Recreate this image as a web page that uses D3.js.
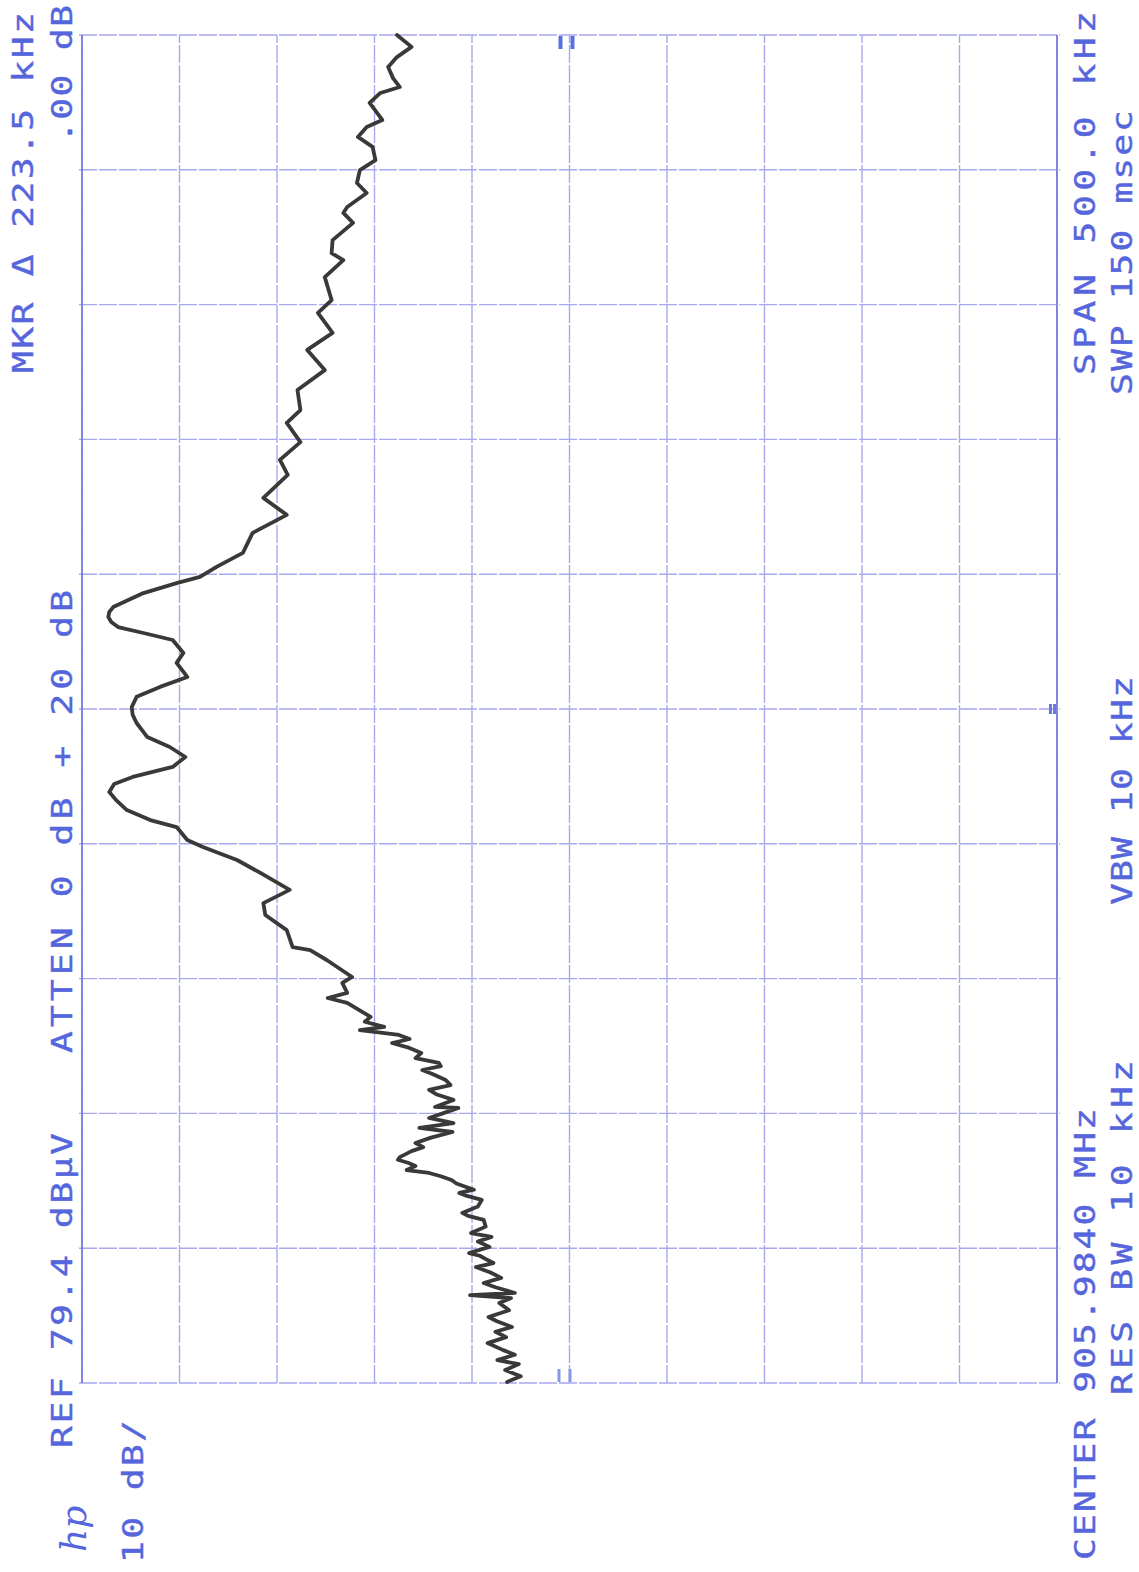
<!DOCTYPE html>
<html>
<head>
<meta charset="utf-8">
<script src="https://cdn.jsdelivr.net/npm/d3@7"></script>
<style>
  body { margin: 0; background: #fff; }
  svg { display: block; }
  .lbl { font-family: "DejaVu Sans Mono", monospace; font-size: 28px; fill: #5566dd; stroke: #5566dd; stroke-width: 0.4px; }
</style>
</head>
<body>
<svg id="area" width="1139" height="1572"></svg>
<script>

// trace: offset from center (kHz) and level (dBuV)
let freqKHz = [-249.6,-247.5,-245.2,-243.0,-241.5,-239.5,-237.8,-235.2,-233.0,-231.0,-229.2,-227.0,-225.5,-223.0,-220.3,-218.5,-217.4,-216.6,-214.5,-212.9,
  -211.0,-209.0,-207.0,-205.5,-204.4,-202.8,-201.8,-199.5,-197.5,-195.8,-194.4,-192.0,-189.5,-188.0,-186.9,-184.5,-182.1,-180.5,-179.5,-178.3,
  -177.3,-176.0,-174.7,-173.3,-172.1,-171.0,-169.5,-168.4,-167.2,-166.2,-164.0,-162.5,-161.0,-159.0,-156.9,-155.4,-153.6,-151.7,-150.0,-148.0,
  -147.6,-145.0,-143.0,-141.3,-139.5,-137.6,-135.5,-133.9,-132.5,-131.3,-129.5,-127.6,-125.5,-123.9,-122.4,-120.9,-119.1,-117.9,-116.0,-114.2,
  -109.0,-107.2,-105.3,-101.6,-99.4,-93.1,-89.4,-88.3,-82.0,-76.4,-72.0,-67.1,-60.8,-56.0,-51.2,
  -48.6,-43.8,-41.2,-37.5,-33.8,-30.8,-27.8,-25.2,-21.5,-17.8,-14.1,-10.4,-5.2,-2.2,0.7,4.5,8.2,11.9,17.1,20.8,25.6,28.2,
  30.4,32.3,34.1,36.0,37.8,43.0,46.7,49.0,52.7,57.9,65.3,72.0,78.3,86.8,92.4,99.0,106.1,110.9,118.3,125.7,133.2,139.5,
  146.9,151.7,160.2,166.5,169.1,173.9,180.3,184.0,186.2,191.4,195.1,199.9,203.6,208.5,212.2,215.9,218.5,224.8,228.5,230.7,
  234.0,238.1,241.8,245.6,250.0];
let levelDb = [35.8,34.4,36.0,34.6,36.8,35.0,36.2,37.8,35.9,37.0,35.3,36.9,37.7,35.6,36.6,35.4,39.6,35.0,37.0,38.2,
  36.4,37.5,39.0,37.2,37.8,38.6,39.7,37.6,38.8,37.4,39.5,38.0,38.2,39.8,40.4,38.8,38.4,40.0,40.7,39.2,
  40.0,41.0,41.5,42.6,43.8,46.1,45.2,45.9,47.0,46.8,45.6,44.4,45.2,43.6,41.4,44.8,41.3,43.8,42.4,40.8,
  43.2,41.3,43.0,43.8,41.6,42.1,43.4,44.5,42.6,42.8,45.2,44.6,46.0,47.6,45.8,46.9,50.9,48.4,50.4,49.8,
  52.2,54.2,52.2,52.7,51.7,54.3,56.0,57.8,58.4,60.6,60.8,58.1,61.1,63.5,67.0,
  68.6,69.7,72.4,74.8,75.9,76.6,76.1,74.2,70.1,68.8,70.4,72.7,73.8,74.2,74.3,73.8,71.4,68.6,69.7,69.0,70.1,73.1,
  75.7,76.4,76.7,76.6,76.2,73.1,69.7,67.3,65.6,62.9,61.9,58.4,60.8,58.3,59.1,57.0,58.4,57.0,57.3,54.5,56.3,53.7,
  55.2,53.8,54.5,52.6,53.8,53.7,51.6,52.6,52.2,50.2,51.2,50.9,49.3,49.6,51.1,50.2,48.6,49.9,48.8,46.8,
  47.5,48.0,47.1,45.6,47.1];

// graticule: 10 dB/div from REF 79.4, 50 kHz/div over a 500 kHz span
let levelTicks = [79.4, 69.4, 59.4, 49.4, 39.4, 29.4, 19.4, 9.4, -0.6, -10.6, -20.6];
let freqTicks = [-250, -200, -150, -100, -50, 0, 50, 100, 150, 200, 250];

let leftLabels = ["MKR \u0394 223.5 kHz", ".00 dB", "ATTEN 0 dB + 20 dB", "REF 79.4 dB\u00b5V", "10 dB/"];
let rightLabels = ["SPAN 500.0 kHz", "SWP 150 msec", "VBW 10 kHz", "CENTER 905.9840 MHz", "RES BW 10 kHz"];

let svg = d3.select("#area");

// the plot is printed turned a quarter: level runs left->right, frequency bottom->top
let xScale = d3.scaleLinear().domain([79.4, -20.6]).range([82, 1057]);
let yScale = d3.scaleLinear().domain([-250, 250]).range([1383, 35]);

let grid = svg.append("g").attr("class", "grid");

grid.selectAll("line.v")
  .data(levelTicks)
  .enter().append("line")
  .attr("class", "v")
  .attr("x1", d => xScale(d)).attr("x2", d => xScale(d))
  .attr("y1", yScale(-250)).attr("y2", yScale(250))
  .style("stroke", "#a8a8ef")
  .style("stroke-width", 1.4)
  .style("stroke-dasharray", "18,2");

grid.selectAll("line.h")
  .data(freqTicks)
  .enter().append("line")
  .attr("class", "h")
  .attr("x1", xScale(79.4) - 3).attr("x2", xScale(-20.6) + 3)
  .attr("y1", d => yScale(d)).attr("y2", d => yScale(d))
  .style("stroke", "#a8a8ef")
  .style("stroke-width", 1.4)
  .style("stroke-dasharray", "18,2");

// outer frame
[levelTicks[0], levelTicks[levelTicks.length - 1]].forEach(v => {
  grid.append("line")
    .attr("x1", xScale(v)).attr("x2", xScale(v))
    .attr("y1", yScale(-250)).attr("y2", yScale(250))
    .style("stroke", "#7b7be6").style("stroke-width", 1.8);
});

// center markers
let midX = xScale(levelTicks[5]);
[[midX - 11, yScale(250) + 1], [midX + 1, yScale(250) + 1]].forEach(p => {
  grid.append("rect").attr("x", p[0]).attr("y", p[1]).attr("width", 4).attr("height", 13).style("fill", "#5a6ee0");
});
[[midX - 12, yScale(-250) - 14], [midX - 1, yScale(-250) - 14]].forEach(p => {
  grid.append("rect").attr("x", p[0]).attr("y", p[1]).attr("width", 3).attr("height", 13).style("fill", "#8a96e8");
});
grid.append("rect").attr("x", xScale(-20.6) - 8).attr("y", yScale(0) - 5).attr("width", 3).attr("height", 10).style("fill", "#6a78e0");
grid.append("rect").attr("x", xScale(-20.6) - 4).attr("y", yScale(0) - 5).attr("width", 3).attr("height", 10).style("fill", "#6a78e0");

let trace = freqKHz.map((f, i) => ({ f: f, l: levelDb[i] }));

let line = d3.line()
  .x(d => xScale(d.l))
  .y(d => yScale(d.f));

svg.append("path")
  .datum(trace)
  .attr("d", line)
  .style("fill", "none")
  .style("stroke", "#3b3838")
  .style("stroke-width", 3.8)
  .style("stroke-linejoin", "round")
  .style("stroke-linecap", "round");

// annotations, rotated with the plot and stretched like the plotter font
function label(txt, x, y0, y1) {
  let sx = 1.3;
  svg.append("text")
    .attr("class", "lbl")
    .attr("transform", "translate(" + x + "," + y0 + ") rotate(-90) scale(" + sx + ",1)")
    .attr("textLength", (y0 - y1) / sx)
    .attr("lengthAdjust", "spacing")
    .text(txt);
}

label(leftLabels[0], 33, 373, 12);
label(leftLabels[1], 72, 143, 5);
label(leftLabels[2], 72, 1053, 590);
label(leftLabels[3], 72, 1448, 1133);
label(leftLabels[4], 143, 1563, 1420);

label(rightLabels[0], 1095, 375, 11);
label(rightLabels[1], 1132, 395, 110);
label(rightLabels[2], 1132, 905, 676);
label(rightLabels[3], 1095, 1560, 1108);
label(rightLabels[4], 1132, 1395, 1060);

svg.append("text")
  .attr("transform", "translate(86,1552) rotate(-90)")
  .style("font-family", "DejaVu Serif, serif")
  .style("font-style", "italic")
  .style("font-size", "36px")
  .style("fill", "#5566dd")
  .text("hp");

</script>
</body>
</html>
